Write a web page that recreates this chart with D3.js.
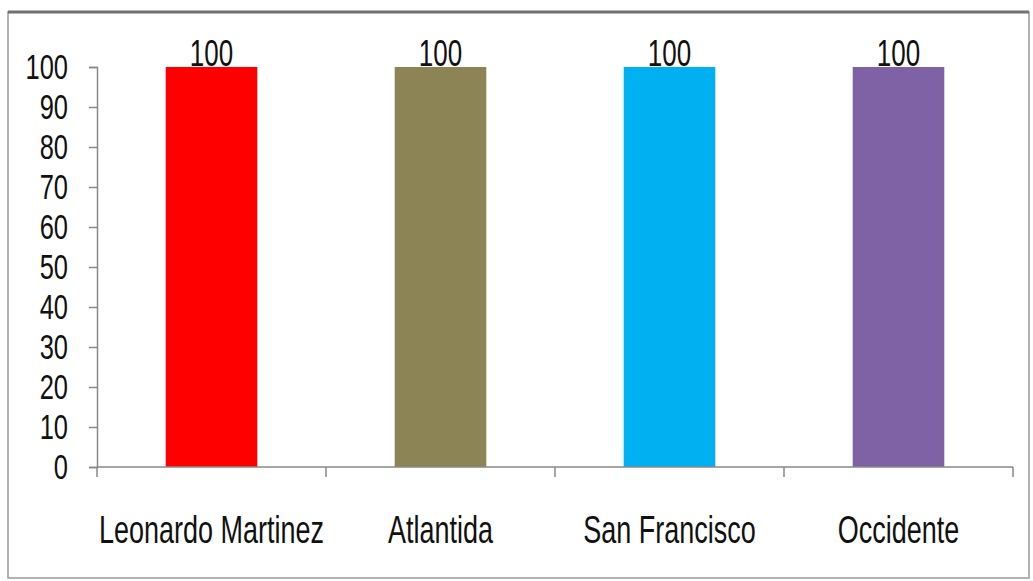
<!DOCTYPE html>
<html>
<head>
<meta charset="utf-8">
<script src="https://cdn.jsdelivr.net/npm/d3@7"></script>
<style>
  html, body { margin: 0; padding: 0; background: #fff; }
  svg { display: block; }
  text { font-family: "Liberation Sans Narrow", "Liberation Sans", sans-serif; fill: #111; }
</style>
</head>
<body>
<svg id="chart" width="1033" height="581"></svg>
<script>
// Chart data
const categories = ["Leonardo Martinez", "Atlantida", "San Francisco", "Occidente"];
const values = [100, 100, 100, 100];
const barColors = ["#FF0000", "#8C8454", "#00B0F0", "#7F62A6"];
const yTicks = [0, 10, 20, 30, 40, 50, 60, 70, 80, 90, 100];

const svg = d3.select("#chart");

// Outer frame
svg.append("rect")
  .attr("x", 8).attr("y", 12)
  .attr("width", 1021).attr("height", 566)
  .attr("fill", "#fff")
  .attr("stroke", "#9a9a9a").attr("stroke-width", 1.5);
svg.append("line")
  .attr("x1", 8).attr("x2", 1029).attr("y1", 12).attr("y2", 12)
  .attr("stroke", "#707070").attr("stroke-width", 3);

const plot = { left: 97, right: 1013, top: 67, bottom: 467 };

const x = d3.scaleBand()
  .domain(categories)
  .range([plot.left, plot.right])
  .padding(0);

const y = d3.scaleLinear()
  .domain([0, 100])
  .range([plot.bottom, plot.top]);

const barW = x.bandwidth() * 0.4;

// Bars
svg.append("g").selectAll("rect")
  .data(categories)
  .join("rect")
  .attr("x", d => x(d) + (x.bandwidth() - barW) / 2)
  .attr("y", (d, i) => y(values[i]))
  .attr("width", barW)
  .attr("height", (d, i) => y(0) - y(values[i]))
  .attr("fill", (d, i) => barColors[i]);

// Value labels
svg.append("g").selectAll("text")
  .data(categories)
  .join("text")
  .attr("text-anchor", "middle")
  .attr("transform", (d, i) => `translate(${x(d) + x.bandwidth() / 2},${y(values[i]) - 1}) scale(1,1.45)`)
  .style("font-size", "26px")
  .text((d, i) => values[i]);

// Y axis
const yAxis = d3.axisLeft(y).tickValues(yTicks).tickSize(8).tickPadding(0).tickFormat(d3.format("d"));
const gy = svg.append("g").attr("transform", `translate(${plot.left},0)`).call(yAxis);
gy.select(".domain").attr("stroke", "#888").attr("stroke-width", 1.5);
gy.selectAll(".tick line").attr("stroke", "#888").attr("stroke-width", 1.5);
gy.selectAll(".tick text")
  .attr("x", null).attr("dy", null)
  .attr("text-anchor", "end")
  .attr("transform", "translate(-29,11) scale(1,1.38)")
  .style("font-size", "25.5px")
  .style("fill", "#111");

// X axis with category separators
const gx = svg.append("g").attr("transform", `translate(0,${plot.bottom})`);
gx.append("line")
  .attr("x1", plot.left).attr("x2", plot.right)
  .attr("stroke", "#888").attr("stroke-width", 1.5);
const seps = categories.map(d => x(d)).concat([plot.right]);
gx.selectAll("line.sep")
  .data(seps)
  .join("line")
  .attr("class", "sep")
  .attr("x1", d => d).attr("x2", d => d)
  .attr("y1", 0).attr("y2", 10)
  .attr("stroke", "#888").attr("stroke-width", 1.5);
gx.selectAll("text")
  .data(categories)
  .join("text")
  .attr("text-anchor", "middle")
  .attr("transform", d => `translate(${x(d) + x.bandwidth() / 2},76) scale(1,1.45)`)
  .style("font-size", "27px")
  .text(d => d);
</script>
</body>
</html>
